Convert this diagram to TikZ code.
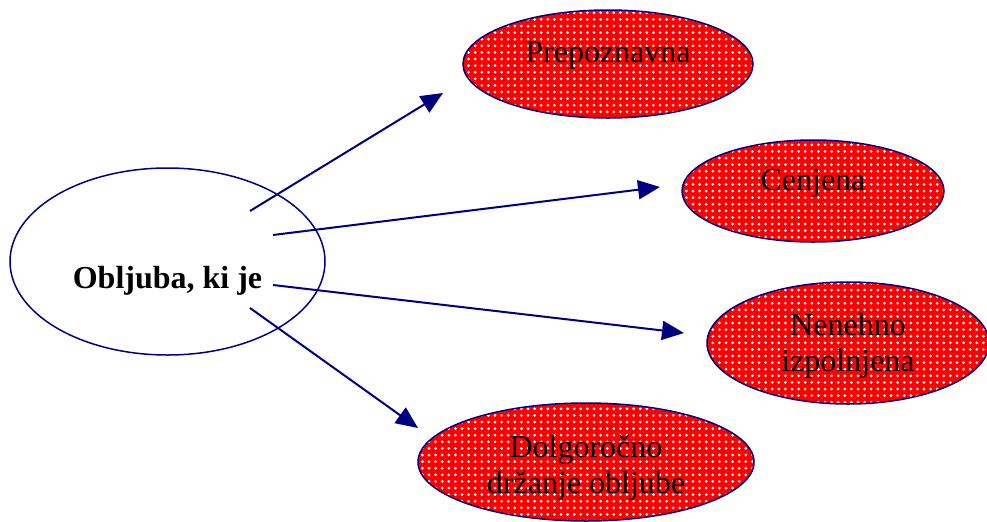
\documentclass[tikz,border=0pt]{standalone}
\usepackage{fontspec}
\setmainfont{Liberation Serif}
\usepackage{xcolor}
\usetikzlibrary{arrows.meta,shapes.geometric,patterns}
\definecolor{navy}{RGB}{0,0,128}
\newcommand{\lift}[2]{\raisebox{#1}[\height][\depth]{#2}}
\newcommand{\twol}[2]{\begin{tabular}{@{}c@{}}#1\\#2\end{tabular}}
\pgfdeclarepatternformonly{bigdots}{\pgfpoint{-1pt}{-1pt}}{\pgfpoint{2.3pt}{2.3pt}}{\pgfpoint{3.3pt}{3.3pt}}{\pgfpathcircle{\pgfpoint{0pt}{0pt}}{0.75pt}\pgfusepath{fill}}

\begin{document}
\begin{tikzpicture}[x=0.5pt, y=-0.5pt,
  ov/.style={ellipse, draw=navy, line width=0.75pt, inner sep=0pt, align=center,
             font=\fontsize{16pt}{18pt}\selectfont},
  hot/.style={ov, preaction={fill=red}, pattern=bigdots, pattern color=white},
  fl/.style={navy, line width=1pt, -{Triangle[length=11pt, width=9.5pt]}}]
\useasboundingbox (0,0) rectangle (987,521);
\node[ov, fill=white, minimum width=157.5pt, minimum height=93.5pt] (main) at (167.5,261.5) {\lift{-9.5pt}{\bfseries Obljuba, ki je}};
\node[hot, minimum width=145pt, minimum height=54pt] (prep) at (608,64) {\lift{4.5pt}{Prepoznavna}};
\node[hot, minimum width=131pt, minimum height=51pt] (cenj) at (813,191) {\lift{4pt}{Cenjena}};
\node[hot, minimum width=141pt, minimum height=61pt] (nene) at (848,343) {\lift{-1.5pt}{\twol{Nenehno}{izpolnjena}}};
\node[hot, minimum width=168pt, minimum height=59pt] (dolg) at (586,462) {\lift{-3pt}{\twol{Dolgoročno}{držanje obljube}}};
% arrow ends
\coordinate (s1) at (250,211); \coordinate (t1) at (443,93);
\coordinate (s2) at (273,235); \coordinate (t2) at (660,187);
\coordinate (s3) at (273,285); \coordinate (t3) at (684,333);
\coordinate (s4) at (250,308); \coordinate (t4) at (418,428);
\foreach \a/\b in {s1/t1, s2/t2, s3/t3, s4/t4} \draw[fl] (\a) -- (\b);
\end{tikzpicture}
\end{document}
